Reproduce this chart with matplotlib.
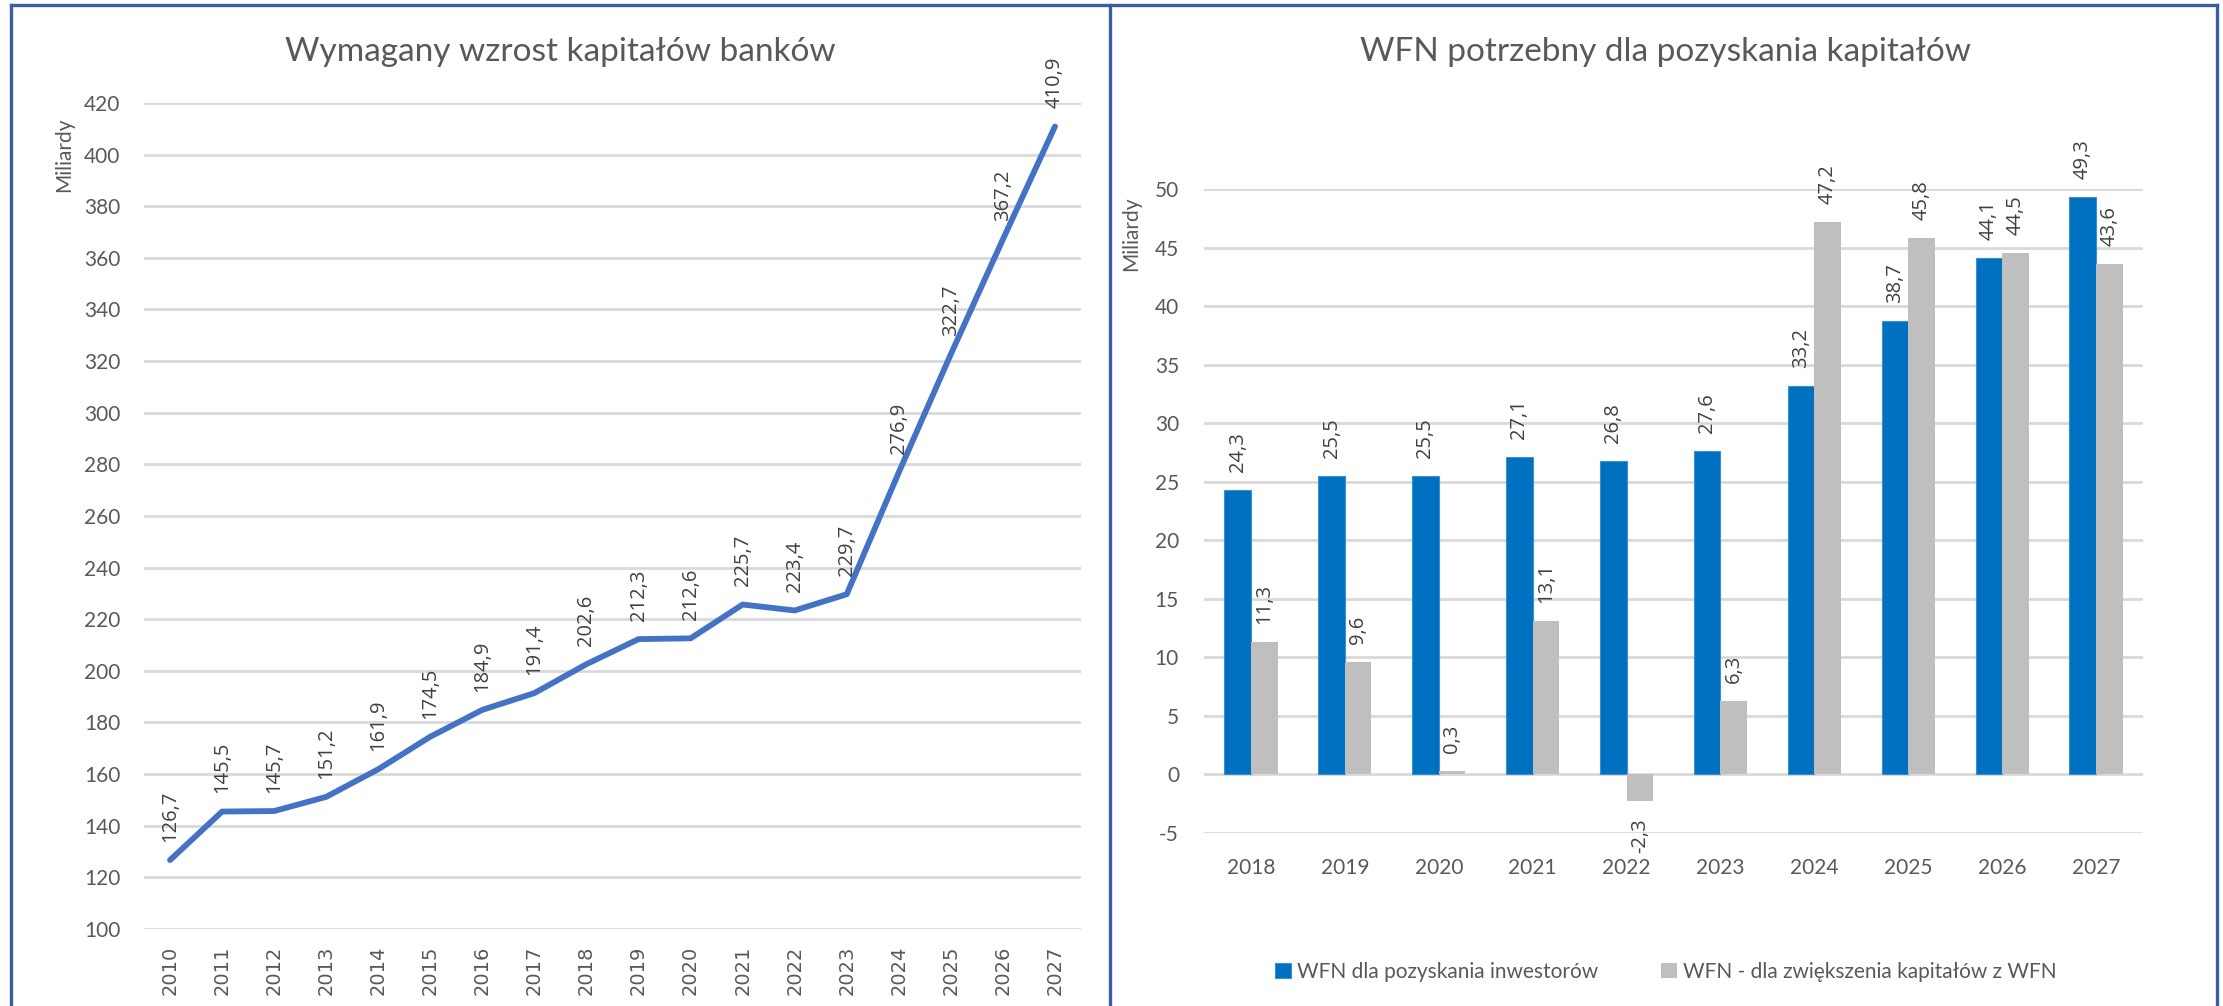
#!/usr/bin/env python3
import matplotlib
matplotlib.use('Agg')
import matplotlib.pyplot as plt
from matplotlib.lines import Line2D
import numpy as np

plt.rcParams['axes.unicode_minus'] = False

# left panel: required growth of bank capital
years_left = [str(y) for y in range(2010, 2028)]
capital = [126.7, 145.5, 145.7, 151.2, 161.9, 174.5, 184.9, 191.4, 202.6,
           212.3, 212.6, 225.7, 223.4, 229.7, 276.9, 322.7, 367.2, 410.9]

# right panel: WFN needed to raise capital
years_right = [str(y) for y in range(2018, 2028)]
wfn_investors = [24.3, 25.5, 25.5, 27.1, 26.8, 27.6, 33.2, 38.7, 44.1, 49.3]
wfn_capital = [11.3, 9.6, 0.3, 13.1, -2.3, 6.3, 47.2, 45.8, 44.5, 43.6]

W, H = 2223, 1006
GREY_TXT = '#595959'
LABEL_TXT = '#404040'
GRID = '#D9D9D9'
FRAME = '#3A5FA0'


def fx(px):
    return px / W


def fy(py):
    return 1 - py / H


def fmt(v):
    return f'{v:.1f}'.replace('.', ',')


fig = plt.figure(figsize=(W / 100, H / 100), dpi=100)
fig.patch.set_facecolor('white')


def style_axes(ax, pad):
    for s in ax.spines.values():
        s.set_visible(False)
    ax.tick_params(length=0, colors=GREY_TXT)
    ax.tick_params(axis='y', pad=pad)
    ax.grid(axis='y', color=GRID, linewidth=2)
    ax.set_axisbelow(True)
    for t in ax.get_yticklabels():
        t.set_family('Lato')
        t.set_fontsize(15)


# ---- left: line chart
ax1 = fig.add_axes([fx(144), fy(929), fx(1081 - 144), (929 - 103) / H])
x1 = np.arange(len(years_left))
ax1.plot(x1, capital, color='#4472C4', linewidth=4.2, solid_capstyle='round',
         solid_joinstyle='round', zorder=3)
ax1.set_xlim(-0.5, len(years_left) - 0.5)
ax1.set_ylim(100, 420)
ax1.set_yticks(np.arange(100, 421, 20))
ax1.set_xticks(x1)
ax1.set_xticklabels(years_left, rotation=90, family='DejaVu Sans', fontsize=14)
ax1.tick_params(axis='x', pad=12)
style_axes(ax1, 17)
for xi, v in zip(x1, capital):
    ax1.annotate(fmt(v), (xi, v), xytext=(0, 13), textcoords='offset points',
                 rotation=90, ha='center', va='bottom', fontsize=14.5,
                 family='Open Sans', color=LABEL_TXT, annotation_clip=False)

fig.text(fx(560), fy(52), 'Wymagany wzrost kapitałów banków', ha='center',
         va='center', fontsize=24, family='Lato', color=GREY_TXT)
fig.text(fx(64), fy(155), 'Miliardy', rotation=90, ha='center', va='center',
         fontsize=15, family='Lato', color=GREY_TXT)

# ---- right: grouped bars
ax2 = fig.add_axes([fx(1204), fy(833), fx(2143 - 1204), (833 - 189) / H])
x2 = np.arange(len(years_right))
bw = 0.283
b1 = ax2.bar(x2 - bw / 2, wfn_investors, bw, color='#0070C0',
             edgecolor='#3D8FD1', linewidth=0.8, zorder=3,
             label='WFN dla pozyskania inwestorów')
b2 = ax2.bar(x2 + bw / 2, wfn_capital, bw, color='#BFBFBF', zorder=3,
             label='WFN - dla zwiększenia kapitałów z WFN')
ax2.set_xlim(-0.5, len(years_right) - 0.5)
ax2.set_ylim(-5, 50)
ax2.set_yticks(np.arange(-5, 51, 5))
ax2.set_xticks(x2)
ax2.set_xticklabels(years_right, family='Lato', fontsize=15)
ax2.tick_params(axis='x', pad=18)
style_axes(ax2, 18)

for bars, vals in ((b1, wfn_investors), (b2, wfn_capital)):
    for rect, v in zip(bars, vals):
        xc = rect.get_x() + rect.get_width() / 2
        if v >= 0:
            ax2.annotate(fmt(v), (xc, v), xytext=(0, 13), textcoords='offset points',
                         rotation=90, ha='center', va='bottom', fontsize=14.5,
                         family='Open Sans', color=LABEL_TXT, annotation_clip=False)
        else:
            ax2.annotate(fmt(v), (xc, v), xytext=(0, -12), textcoords='offset points',
                         rotation=90, ha='center', va='top', fontsize=14.5,
                         family='Open Sans', color=LABEL_TXT, annotation_clip=False)

leg = fig.legend(handles=[b1, b2], loc='center', bbox_to_anchor=(fx(1666), fy(972)),
                 ncol=2, frameon=False, handlelength=0.75, handleheight=0.75,
                 handletextpad=0.3, columnspacing=3.0,
                 prop={'family': 'Lato', 'size': 15})
for t in leg.get_texts():
    t.set_color(GREY_TXT)

fig.text(fx(1666), fy(52), 'WFN potrzebny dla pozyskania kapitałów', ha='center',
         va='center', fontsize=24, family='Lato', color=GREY_TXT)
fig.text(fx(1131), fy(234), 'Miliardy', rotation=90, ha='center', va='center',
         fontsize=15, family='Lato', color=GREY_TXT)

# panel frames
for xs, ys in (([11, 11], [5, H]), ([11, 2217], [5, 5]),
               ([1110, 1110], [5, H]), ([2217, 2217], [5, H])):
    fig.add_artist(Line2D([fx(v) for v in xs], [fy(v) for v in ys],
                          color=FRAME, linewidth=2.4))

fig.savefig('out.png', dpi=100)
